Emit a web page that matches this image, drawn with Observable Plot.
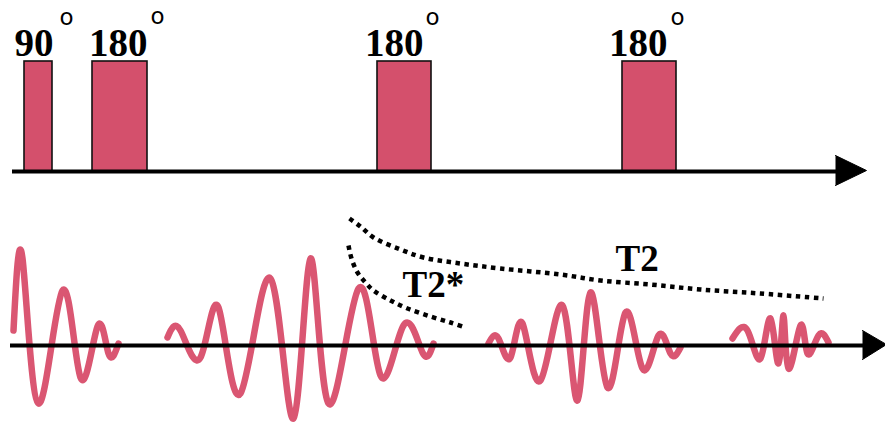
<!DOCTYPE html>
<html>
<head>
<meta charset="utf-8">
<script src="https://cdn.jsdelivr.net/npm/d3@7"></script>
<script src="https://cdn.jsdelivr.net/npm/@observablehq/plot@0.6"></script>
<style>
  html, body { margin: 0; padding: 0; background: #ffffff; }
  #chart svg { display: block; }
</style>
</head>
<body>
<div id="chart"></div>
<script>
// Diagram frame: x = time position, y = vertical position (0 at top)
const pulses = [
  {label: "90",  x1: 24,  x2: 52},
  {label: "180", x1: 92,  x2: 147},
  {label: "180", x1: 377, x2: 431},
  {label: "180", x1: 622, x2: 676}
];
const pulseTop = 61;
const rfBaseline = 171;
const sigBaseline = 345;

const pulseLabels = [
  {text: "90",  x: 53,  y: 55},
  {text: "180", x: 147, y: 55},
  {text: "180", x: 423, y: 55},
  {text: "180", x: 667, y: 55}
];
const degreeMarks = [
  {x: 66, y: 17}, {x: 157, y: 16}, {x: 432, y: 17}, {x: 677, y: 17}
];

const axisLines = [
  {axis: "rf",  x1: 12, x2: 840, y: rfBaseline},
  {axis: "sig", x1: 10, x2: 866, y: sigBaseline}
];
const arrowRF = [{x: 835, y: 155}, {x: 866, y: 170}, {x: 835, y: 185}];
const arrowSig = [{x: 862, y: 330}, {x: 886, y: 344}, {x: 862, y: 359}];

// Waveform extrema
const fid = [
  [13,330],[22,258],[38,403],[62,290],[80,377],[97,326],[108,353],[118,343]
];
const echo1 = [
  [167,337],[180,330],[200,357],[218,307],[240,393],[270,278],[293,418],
  [310,258],[328,403],[358,288],[380,375],[403,325],[422,352],[433,343]
];
const echo2 = [
  [488,343],[498,338],[510,357],[522,323],[540,380],[562,305],[577,400],
  [590,292],[607,387],[625,312],[642,368],[658,335],[670,353],[680,347]
];
const echo3 = [
  [732,338],[747,330],[760,358],[770,318],[778,363],[783,315],[788,368],
  [800,325],[807,353],[818,335],[828,342]
];

const t2Curve = [
  [349,218],[360,226],[373,237],[400,249],[423,257],[460,263],[500,268],
  [560,274],[600,280],[650,284],[700,289],[760,293],[823,298]
];
const t2StarCurve = [
  [348,245],[351,258],[357,272],[365,282],[373,290],[390,300],[407,308],
  [430,316],[450,322],[465,327]
];

const annotations = [
  {text: "T2*", x: 402, y: 296},
  {text: "T2",  x: 615, y: 270}
];

const toPts = (arr, id) => arr.map(([x, y]) => ({x, y, id}));
const waves = [
  ...toPts(fid, "fid"), ...toPts(echo1, "e1"),
  ...toPts(echo2, "e2"), ...toPts(echo3, "e3")
];
const decays = [...toPts(t2Curve, "t2"), ...toPts(t2StarCurve, "t2s")];

const pulseColor = "#d4506c";
const waveColor = "#da5672";
const serif = "'Liberation Serif', 'Times New Roman', serif";

const chart = Plot.plot({
  width: 885,
  height: 424,
  margin: 0,
  x: {domain: [0, 885], range: [0, 885], axis: null},
  y: {domain: [0, 424], range: [0, 424], axis: null},
  style: {background: "#ffffff"},
  marks: [
    Plot.rect(pulses, {x1: "x1", x2: "x2", y1: pulseTop, y2: rfBaseline,
      fill: pulseColor, stroke: "#111", strokeWidth: 1.6}),
    Plot.line(waves, {x: "x", y: "y", z: "id", curve: "natural",
      stroke: waveColor, strokeWidth: 6.5, strokeLinejoin: "round", strokeLinecap: "round"}),
    Plot.ruleY(axisLines, {x1: "x1", x2: "x2", y: "y", stroke: "#000", strokeWidth: 4}),
    Plot.line(arrowRF, {x: "x", y: "y", fill: "#000", stroke: "#000", strokeWidth: 1}),
    Plot.line(arrowSig, {x: "x", y: "y", fill: "#000", stroke: "#000", strokeWidth: 1}),
    Plot.line(decays, {x: "x", y: "y", z: "id", curve: "catmull-rom",
      stroke: "#000", strokeWidth: 4.5, strokeDasharray: "4.5,4.5", strokeLinecap: "butt"}),
    Plot.text(pulseLabels, {x: "x", y: "y", text: "text", textAnchor: "end",
      lineAnchor: "bottom", fontSize: 39, fontWeight: "bold", fontFamily: serif, fill: "#000"}),
    Plot.text(degreeMarks, {x: "x", y: "y", text: () => "o", textAnchor: "middle",
      lineAnchor: "middle", fontSize: 23, fontFamily: "'DejaVu Sans', sans-serif", fill: "#000"}),
    Plot.text(annotations, {x: "x", y: "y", text: "text", textAnchor: "start",
      lineAnchor: "bottom", fontSize: 37, fontWeight: "bold", fontFamily: serif, fill: "#000"})
  ]
});
document.getElementById("chart").appendChild(chart);
</script>
</body>
</html>
